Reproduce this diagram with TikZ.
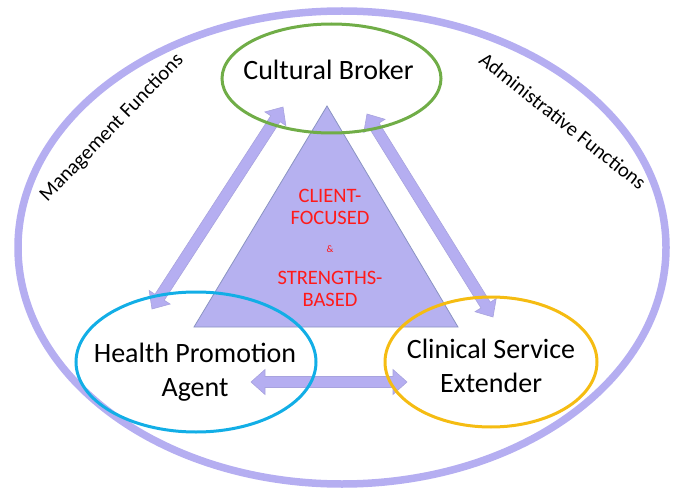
\documentclass[tikz,border=0pt]{standalone}
\usepackage{fontspec}
\setmainfont{Carlito}
\usetikzlibrary{shapes.geometric}
\definecolor{lav}{HTML}{B5AEF1}
\definecolor{lavedge}{HTML}{A8A3DE}
\definecolor{trifill}{HTML}{B6B1F0}
\definecolor{triedge}{HTML}{8A93C2}
\definecolor{cbgreen}{HTML}{70AD47}
\definecolor{hpblue}{HTML}{12AEE6}
\definecolor{csgold}{HTML}{F5BC12}
\definecolor{corered}{HTML}{FF1A1A}
\tikzset{
  ring/.style={ellipse, draw, line width=3pt, inner sep=0pt},
  blockarrow/.style={fill=lav, draw=lavedge, line width=0.6pt, line join=miter},
  tri/.style={fill=trifill, draw=triedge, line width=0.8pt},
  lbl/.style={font=\fontsize{28}{33}\selectfont, text=black, inner sep=0pt, anchor=base},
  side/.style={font=\fontsize{20.5}{24}\selectfont, text=black, inner sep=0pt},
  core/.style={font=\fontsize{20.5}{24}\selectfont, text=corered, inner sep=0pt, anchor=base},
}
% block arrow with two heads between two named coordinates
\newcommand\blockarr[2]{%
  \pgfpointdiff{\pgfpointanchor{#1}{center}}{\pgfpointanchor{#2}{center}}%
  \pgfgetlastxy{\bax}{\bay}%
  \pgfmathsetmacro\baang{atan2(\bay,\bax)}%
  \pgfmathsetmacro\balen{veclen(\bax,\bay)}%
  \begin{scope}[shift={(#1)}, rotate=\baang]
    \draw[blockarrow] (0pt,0pt) -- (14pt,12.5pt) -- (14pt,5.5pt)
      -- (\balen pt-14pt,5.5pt) -- (\balen pt-14pt,12.5pt) -- (\balen pt,0pt)
      -- (\balen pt-14pt,-12.5pt) -- (\balen pt-14pt,-5.5pt)
      -- (14pt,-5.5pt) -- (14pt,-12.5pt) -- cycle;
  \end{scope}}
\begin{document}
\begin{tikzpicture}[x=1pt,y=-1pt]
\useasboundingbox (0,0) rectangle (677,489);
% outer ring
\node[ellipse, draw=lav, line width=7.5pt, inner sep=0pt,
      minimum width=648pt, minimum height=473pt] (outer) at (342,247.5) {};
% central triangle
\coordinate (apex) at (327,106);
\coordinate (tbl) at (194,327);
\coordinate (tbr) at (458,327);
\draw[tri] (apex) -- (tbl) -- (tbr) -- cycle;
% block arrows
\coordinate (la1) at (152,309);
\coordinate (la2) at (283,107);
\coordinate (ra1) at (367,114);
\coordinate (ra2) at (493,317);
\coordinate (ha1) at (251,382);
\coordinate (ha2) at (407,382);
\blockarr{la1}{la2}
\blockarr{ra1}{ra2}
\blockarr{ha1}{ha2}
% role ellipses
\node[ring, draw=cbgreen, minimum width=219pt, minimum height=109pt] (cb) at (331.5,78.5) {};
\node[ring, draw=hpblue, minimum width=240pt, minimum height=140pt] (hpa) at (196,362) {};
\node[ring, draw=csgold, minimum width=212pt, minimum height=130pt] (cse) at (491,362) {};
% labels
\node[lbl] (cbt) at (328.5,80) {Cultural Broker};
\node[lbl] (hpt1) at (195,362) {Health Promotion};
\node[lbl] (hpt2) at (195,396) {Agent};
\node[lbl] (cst1) at (491,358) {Clinical Service};
\node[lbl] (cst2) at (491,392) {Extender};
% core text
\node[core] (c1) at (330,202.5) {CLIENT-};
\node[core] (c2) at (330,224.5) {FOCUSED};
\node[core, font=\fontsize{10}{12}\selectfont] (c3) at (330,252) {\&};
\node[core] (c4) at (330,284.5) {STRENGTHS-};
\node[core] (c5) at (330,306.5) {BASED};
% side texts
\node[side, rotate=46] (mgmt) at (112,128) {Management Functions};
\node[side, rotate=-38.5] (admin) at (563,121) {Administrative Functions};
\end{tikzpicture}
\end{document}
